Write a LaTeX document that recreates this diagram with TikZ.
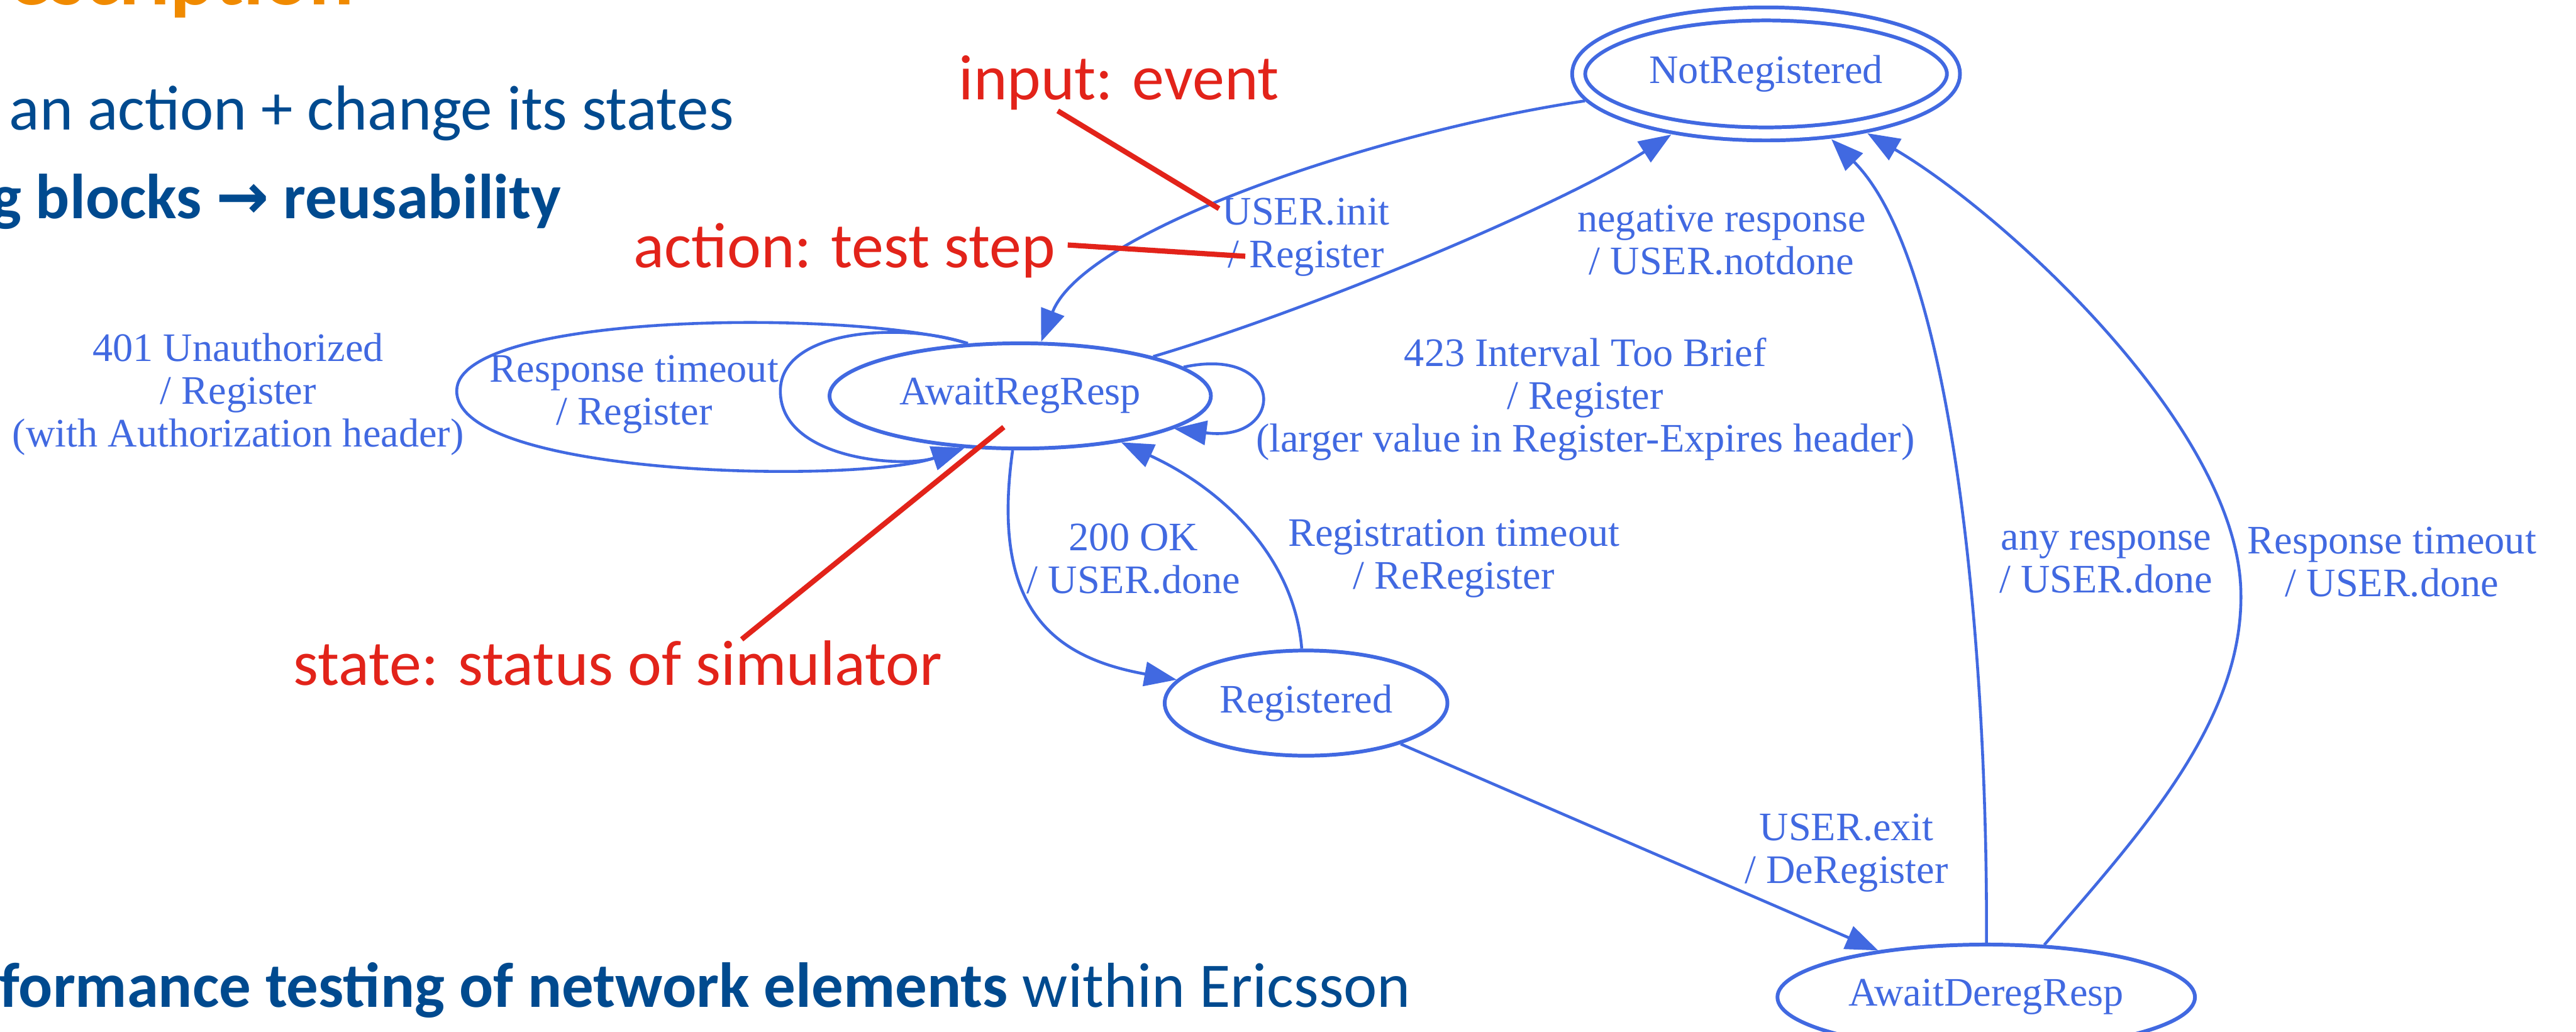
\documentclass[tikz,border=0pt]{standalone}
\usepackage{fontspec}
\setmainfont{Liberation Serif}
\newfontfamily\slidefont{Carlito}
\newfontfamily\arrowfont{DejaVu Sans}
\usetikzlibrary{shapes.geometric, arrows.meta, calc}
\definecolor{graphblue}{RGB}{65,105,225}
\definecolor{slideblue}{RGB}{0,74,143}
\definecolor{annored}{RGB}{226,35,26}
\definecolor{titleorange}{RGB}{240,138,0}

\begin{document}
\begin{tikzpicture}[x = 0.01cm, y = -0.01cm,
    statenode/.style = {ellipse, draw = graphblue, line width = 0.65pt, text = graphblue, inner sep = 0pt, minimum height = 0.64cm, font = \fontsize{7}{8}\selectfont},
    edgelabel/.style = {align = center, text = graphblue, inner sep = 0pt, font = \fontsize{7}{7.4}\selectfont},
    trans/.style = {draw = graphblue, line width = 0.5pt, -{Triangle[length = 5.6pt, width = 4.2pt]}},
    slide/.style = {anchor = base west, inner sep = 0pt, text = slideblue, font = \slidefont\fontsize{11}{13}\selectfont},
    note/.style = {anchor = base west, inner sep = 0pt, text = annored, font = \slidefont\fontsize{11.1}{13}\selectfont},
    pointer/.style = {draw = annored, line width = 0.9pt}]
    \useasboundingbox (0, 0) rectangle (1568, 628);
    \clip (0, 0) rectangle (1568, 628);

    \node[anchor = base west, inner sep = 0pt, text = titleorange, font = \slidefont\bfseries\fontsize{14.5}{17}\selectfont] (title) at (5, 3) {escription};
    \node[slide] (line one) at (5, 79) {an action + change its states};
    \node[slide, font = \slidefont\bfseries\fontsize{11}{13}\selectfont] (line two) at (-6, 133) {g blocks {\arrowfont →} reusability};
    \node[slide] (line three) at (-1, 613) {\textbf{formance testing of network elements} within Ericsson};

    \node[statenode, double, double distance = 1.6pt, minimum width = 2.28cm, minimum height = 0.73cm, outer sep = 1.6pt] (not registered) at (1075, 45) {NotRegistered};
    \node[statenode, minimum width = 2.32cm] (await reg resp) at (621, 241) {AwaitRegResp};
    \node[statenode, minimum width = 1.72cm] (registered) at (795, 428) {Registered};
    \node[statenode, minimum width = 2.54cm] (await dereg resp) at (1209, 607) {AwaitDeregResp};

    \draw[trans] (not registered) .. controls (840, 80) and (660, 140) .. (await reg resp);
    \draw[trans] (await reg resp) .. controls (800, 188) and (950, 125) .. (not registered);
    \draw[trans] (await reg resp.135) .. controls (520, 188) and (278, 190) .. (278, 238) .. controls (278, 290) and (520, 295) .. (await reg resp.223);
    \draw[trans] (await reg resp.135) .. controls (550, 196) and (475, 200) .. (475, 238) .. controls (475, 280) and (550, 285) .. (await reg resp.223);
    \draw[trans] (await reg resp.10) .. controls (783, 210) and (783, 270) .. (await reg resp.-12);
    \draw[trans] (await reg resp) .. controls (603, 370) and (640, 400) .. (registered);
    \draw[trans] (registered) .. controls (788, 340) and (745, 298) .. (await reg resp);
    \draw[trans] (registered) -- (await dereg resp);
    \draw[trans] (await dereg resp) .. controls (1210, 400) and (1190, 160) .. (not registered);
    \draw[trans] (await dereg resp.42) .. controls (1300, 510) and (1366, 440) .. (1364, 360) .. controls (1362, 260) and (1220, 130) .. (not registered);

    \node[edgelabel] (init label) at (795, 144.5) {USER.init\\/ Register};
    \node[edgelabel] (negative label) at (1048, 146) {negative response\\/ USER.notdone};
    \node[edgelabel] (unauthorized label) at (145, 240) {401 Unauthorized\\/ Register\\(with Authorization header)};
    \node[edgelabel] (timeout label) at (386, 240) {Response timeout\\/ Register};
    \node[edgelabel] (brief label) at (965, 243) {423 Interval Too Brief\\/ Register\\(larger value in Register-Expires header)};
    \node[edgelabel] (ok label) at (690, 340) {200 OK\\/ USER.done};
    \node[edgelabel] (reregister label) at (885, 340) {Registration timeout\\/ ReRegister};
    \node[edgelabel] (exit label) at (1124, 519) {USER.exit\\/ DeRegister};
    \node[edgelabel] (any label) at (1282, 342) {any response\\/ USER.done};
    \node[edgelabel] (dereg timeout label) at (1456, 342) {Response timeout\\/ USER.done};

    \node[note] (input event) at (583, 60.5) {input: event};
    \node[note] (action test step) at (385, 163) {action: test step};
    \node[note] (state status) at (178, 417) {state: status of simulator};
    \coordinate (event target) at (742, 127);
    \coordinate (step target) at (758, 156);
    \coordinate (state target) at (611, 260);
    \draw[pointer] ($(input event.south west)!0.31!(input event.south east)$) -- (event target);
    \draw[pointer] ([xshift = 2pt, yshift = 1pt]action test step.east) -- (step target);
    \draw[pointer] ($(state status.north west)!0.69!(state status.north east)$) -- (state target);
\end{tikzpicture}
\end{document}
